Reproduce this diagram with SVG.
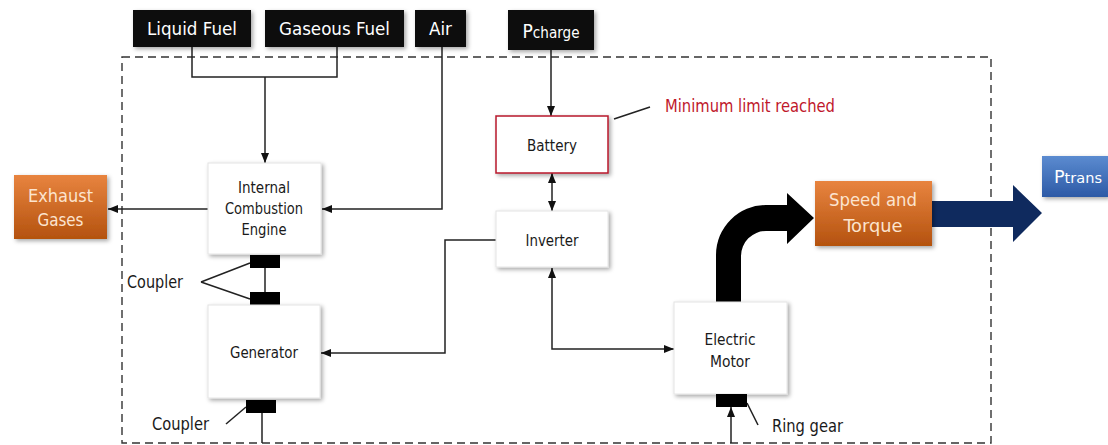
<svg xmlns="http://www.w3.org/2000/svg" width="1108" height="445" viewBox="0 0 1108 445">
<defs>
<style>
.t{font-family:"DejaVu Sans Condensed","DejaVu Sans",sans-serif;font-stretch:condensed;text-anchor:middle}
.w{fill:#ffffff}
.k{fill:#1a1a1a}
.c{fill:#fce4cf}
.ln{fill:none;stroke:#222;stroke-width:1.5}
.arr{marker-end:url(#ah)}
.box{fill:#ffffff;stroke:#e4e4e4;stroke-width:1;filter:url(#sh)}
.blk{fill:#0a0a0a;filter:url(#sh)}
</style>
<marker id="ah" viewBox="0 0 10 8" refX="10" refY="4" markerWidth="10" markerHeight="8" markerUnits="userSpaceOnUse" orient="auto-start-reverse"><path d="M0,0 L10,4 L0,8 z" fill="#111"/></marker>
<filter id="sh" x="-20%" y="-20%" width="150%" height="150%"><feDropShadow dx="2" dy="2" stdDeviation="2" flood-color="#000" flood-opacity="0.35"/></filter>
<linearGradient id="og" x1="0" y1="0" x2="0" y2="1"><stop offset="0" stop-color="#e8843f"/><stop offset="1" stop-color="#b4520f"/></linearGradient>
<linearGradient id="bg" x1="0" y1="0" x2="0" y2="1"><stop offset="0" stop-color="#5b8bd0"/><stop offset="1" stop-color="#2d5aa6"/></linearGradient>
</defs>
<rect width="1108" height="445" fill="#ffffff"/>
<rect id="boundary" x="122" y="57" width="869" height="386" fill="none" stroke="#333" stroke-width="1.4" stroke-dasharray="8,5"/>

<g id="connectors">
<path class="ln" d="M192,47 V77 H337 V47"/>
<path class="ln arr" d="M265,77 V163"/>
<path class="ln arr" d="M442,47 V209 H322"/>
<path class="ln arr" d="M208,209 H108"/>
<path class="ln arr" d="M551,50 V116"/>
<path class="ln arr" d="M552,173 V211" style="marker-start:url(#ah)"/>
<path class="ln arr" d="M496,240 H445 V353 H321"/>
<path class="ln arr" d="M674,349 H552 V268" style="marker-start:url(#ah)"/>
<path class="ln" d="M265,267 V293"/>
<path class="ln" d="M201,282 L250,263 M201,282 L250,299"/>
<path class="ln" d="M262,413 V443"/>
<path class="ln" d="M226,424 L246,407"/>
<path class="ln arr" d="M731,443 V407"/>
<path class="ln" d="M747,403 L758,425"/>
<path class="ln" d="M614,119 L650,107"/>
<path id="torque-arrow" d="M716,302 L716,255 A50,50 0 0 1 766,205 L787,205 L787,193 L814,218 L787,244 L787,231 L766,231 A25,25 0 0 0 741,256 L741,302 Z" fill="#000"/>
<path id="trans-arrow" d="M932,201 L1013,201 L1013,185 L1042,213 L1013,242 L1013,227 L932,227 Z" fill="#0f2a5e"/>
</g>

<g id="liquid-fuel"><rect class="blk" x="133" y="10" width="118" height="37"/><text class="t w" x="192" y="35" font-size="17.5" textLength="90" lengthAdjust="spacingAndGlyphs">Liquid Fuel</text></g>
<g id="gaseous-fuel"><rect class="blk" x="265" y="10" width="139" height="37"/><text class="t w" x="334.5" y="35" font-size="17.5" textLength="111" lengthAdjust="spacingAndGlyphs">Gaseous Fuel</text></g>
<g id="air"><rect class="blk" x="415" y="10" width="51" height="37"/><text class="t w" x="440.5" y="35" font-size="17.5" textLength="23" lengthAdjust="spacingAndGlyphs">Air</text></g>
<g id="pcharge"><rect class="blk" x="508" y="10" width="86" height="40"/><text class="t w" x="551" y="38" font-size="15.5" textLength="57" lengthAdjust="spacingAndGlyphs"><tspan font-size="19.5">P</tspan>charge</text></g>

<g id="battery"><rect x="496" y="116" width="112" height="57" fill="#fff" stroke="#b8172b" stroke-width="1.5" filter="url(#sh)"/><text class="t k" x="552" y="151" font-size="16" textLength="50" lengthAdjust="spacingAndGlyphs">Battery</text></g>
<g id="limit-label"><text class="t" x="750" y="112" font-size="17.5" fill="#c0172b" textLength="170" lengthAdjust="spacingAndGlyphs">Minimum limit reached</text></g>
<g id="inverter"><rect class="box" x="496" y="211" width="112" height="56"/><text class="t k" x="552" y="246" font-size="16" textLength="53" lengthAdjust="spacingAndGlyphs">Inverter</text></g>

<g id="ice"><rect class="box" x="208" y="163" width="113" height="91"/>
<text class="t k" x="264" y="193" font-size="16" textLength="52" lengthAdjust="spacingAndGlyphs">Internal</text>
<text class="t k" x="264" y="214" font-size="16" textLength="78" lengthAdjust="spacingAndGlyphs">Combustion</text>
<text class="t k" x="264" y="235" font-size="16" textLength="45" lengthAdjust="spacingAndGlyphs">Engine</text></g>

<g id="exhaust"><rect x="14" y="175" width="93" height="64" fill="url(#og)" filter="url(#sh)"/>
<text class="t c" x="60.5" y="202" font-size="17.5" textLength="65" lengthAdjust="spacingAndGlyphs">Exhaust</text>
<text class="t c" x="60.5" y="226" font-size="17.5" textLength="46" lengthAdjust="spacingAndGlyphs">Gases</text></g>

<g id="coupler-top"><rect x="250" y="255" width="30" height="13" fill="#000"/><rect x="250" y="292" width="30" height="14" fill="#000"/>
<text class="t k" x="155" y="288" font-size="17.5" textLength="56" lengthAdjust="spacingAndGlyphs">Coupler</text></g>

<g id="generator"><rect class="box" x="208" y="305" width="112" height="93"/><text class="t k" x="264" y="358" font-size="16" textLength="68" lengthAdjust="spacingAndGlyphs">Generator</text></g>

<g id="coupler-bottom"><rect x="246" y="400" width="30" height="13" fill="#000"/>
<text class="t k" x="180.5" y="430" font-size="17.5" textLength="57" lengthAdjust="spacingAndGlyphs">Coupler</text></g>

<g id="electric-motor"><rect class="box" x="674" y="302" width="113" height="92"/>
<text class="t k" x="730" y="345" font-size="16" textLength="51" lengthAdjust="spacingAndGlyphs">Electric</text>
<text class="t k" x="730" y="367" font-size="16" textLength="40" lengthAdjust="spacingAndGlyphs">Motor</text></g>

<g id="ring-gear"><rect x="716" y="394" width="31" height="13" fill="#000"/>
<text class="t k" x="807.5" y="432" font-size="17.5" textLength="71" lengthAdjust="spacingAndGlyphs">Ring gear</text></g>

<g id="speed-torque"><rect x="815" y="181" width="117" height="65" fill="url(#og)" filter="url(#sh)"/>
<text class="t c" x="873" y="206" font-size="17.5" textLength="88" lengthAdjust="spacingAndGlyphs">Speed and</text>
<text class="t c" x="873" y="232" font-size="17.5" textLength="59" lengthAdjust="spacingAndGlyphs">Torque</text></g>

<g id="ptrans"><rect x="1042" y="156" width="66" height="41" fill="url(#bg)" filter="url(#sh)"/>
<text class="t w" x="1078" y="183" font-size="14.5" textLength="48" lengthAdjust="spacingAndGlyphs"><tspan font-size="17.5">P</tspan>trans</text></g>
</svg>
